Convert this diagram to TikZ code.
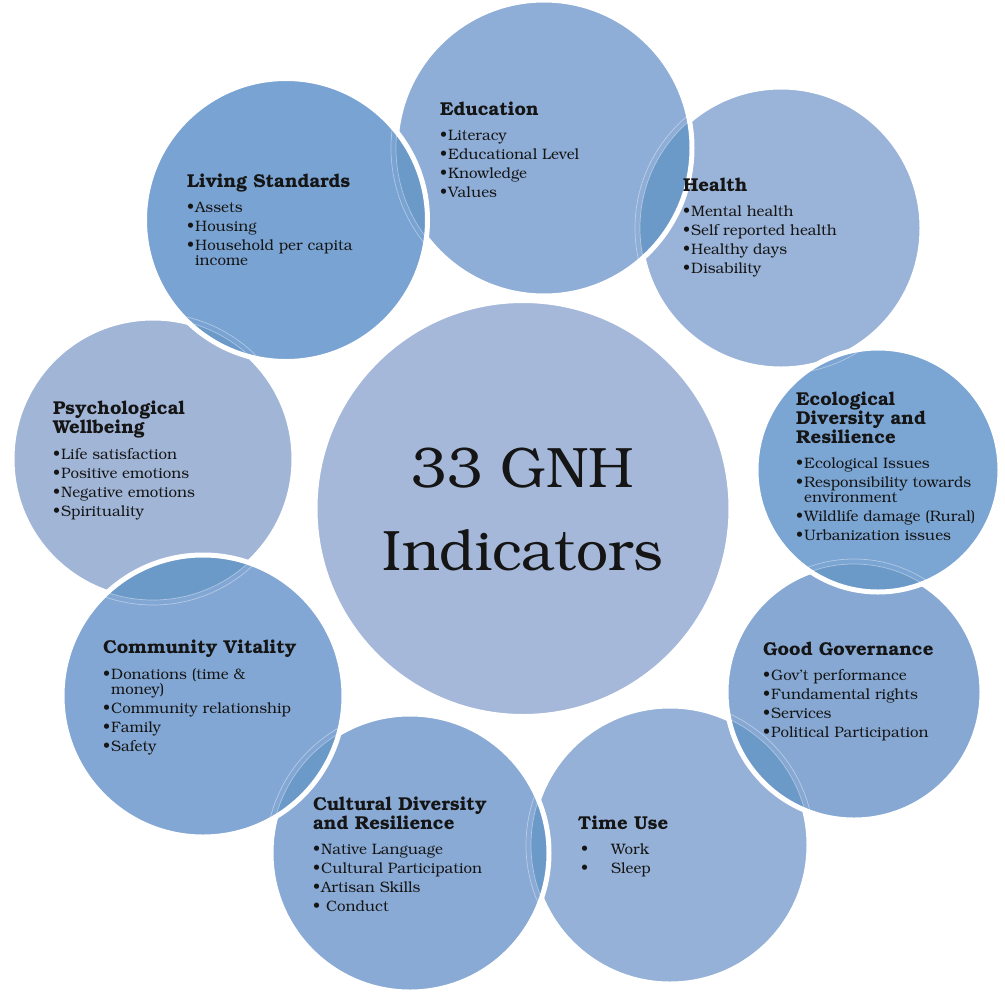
\documentclass[tikz,border=0pt]{standalone}
\usepackage[T1]{fontenc}
\usepackage{bookman}
\definecolor{cEdu}{HTML}{8FAED7}
\definecolor{cHea}{HTML}{9AB3D8}
\definecolor{cEco}{HTML}{7BA5D3}
\definecolor{cGov}{HTML}{86A8D3}
\definecolor{cTim}{HTML}{95B1D8}
\definecolor{cCul}{HTML}{89AAD5}
\definecolor{cCom}{HTML}{83A7D4}
\definecolor{cPsy}{HTML}{A1B5D7}
\definecolor{cLiv}{HTML}{79A3D2}
\definecolor{cCen}{HTML}{A5B8D9}
\definecolor{cLens}{HTML}{6C9AC8}
\definecolor{ink}{HTML}{151515}
\newcommand\ttl[1]{{\fontsize{18.6}{19}\selectfont\bfseries #1\par}\vspace{6pt}}
\newcommand\itm[1]{\par\hangindent=8pt\hangafter=1\noindent\makebox[8pt][l]{\textbullet}#1}
\newcommand\blk[1]{\parbox[t]{280pt}{\fontsize{15.1}{15}\selectfont\setlength\parskip{4pt}\setlength\parindent{0pt}\raggedright #1}}
\newcommand\bubble[3]{%
  \fill[#3] (#1) circle[radius=#2pt];}
\newcommand\rim[2]{%
  \draw[rimline] (#1) circle[radius=#2pt];}
\newcommand\lens[4]{%
  \begin{scope}
    \clip (#1) circle[radius=#2pt];
    \fill[cLens] (#3) circle[radius=#4pt];
    \draw[ghost] (#3) circle[radius=#4pt];
    \draw[ghost] (#3) circle[radius=#4pt+5pt];
  \end{scope}}
\begin{document}
\begin{tikzpicture}[x=1pt,y=-1pt,
  rimline/.style={draw=white,line width=5pt},
  ghost/.style={draw=white,opacity=0.4,line width=0.7pt},
  txt/.style={inner sep=0pt,anchor=base west,text=ink}]
\useasboundingbox (0,0) rectangle (1005,994);
\fill[white] (0,0) rectangle (1005,994);
% centres
\coordinate (pEdu) at (544,148);
\coordinate (pHea) at (781,228);
\coordinate (pEco) at (878,470);
\coordinate (pGov) at (854,692);
\coordinate (pTim) at (670,845);
\coordinate (pCul) at (410,853);
\coordinate (pCom) at (203,696);
\coordinate (pPsy) at (153,459);
\coordinate (pLiv) at (286,220);
\coordinate (pCen) at (523,508.5);
% central circle
\bubble{pCen}{208}{cCen}
\rim{pCen}{208}
% bottom layer
\bubble{pHea}{141}{cHea}\rim{pHea}{141}
\bubble{pTim}{139}{cTim}\rim{pTim}{139}
\bubble{pPsy}{141}{cPsy}\rim{pPsy}{141}
% Education over Health
\bubble{pEdu}{148}{cEdu}
\lens{pEdu}{148}{pHea}{141}
\rim{pEdu}{148}
% Cultural over Time Use
\bubble{pCul}{139}{cCul}
\lens{pCul}{139}{pTim}{139}
\rim{pCul}{139}
% Good Governance over Time Use
\bubble{pGov}{128}{cGov}
\lens{pGov}{128}{pTim}{139}
\rim{pGov}{128}
% Living Standards over Education and Psychological
\bubble{pLiv}{141.5}{cLiv}
\lens{pLiv}{141.5}{pEdu}{148}
\lens{pLiv}{141.5}{pPsy}{141}
\rim{pLiv}{141.5}
% Community over Cultural and Psychological
\bubble{pCom}{141}{cCom}
\lens{pCom}{141}{pCul}{139}
\lens{pCom}{141}{pPsy}{141}
\rim{pCom}{141}
% Ecological over Good Governance and Health
\bubble{pEco}{122}{cEco}
\lens{pEco}{122}{pGov}{128}
\lens{pEco}{122}{pHea}{141}
\rim{pEco}{122}
% texts
\node[txt,anchor=base] (tCen) at (523,487) {\parbox[t]{420pt}{\centering\fontsize{57}{83}\selectfont 33 GNH\\Indicators}};
\node[txt] (tEdu) at (440,115) {\blk{\ttl{Education}\itm{Literacy}\itm{Educational Level}\itm{Knowledge}\itm{Values}}};
\node[txt] (tLiv) at (187,187) {\blk{\ttl{Living Standards}\itm{Assets}\itm{Housing}\itm{Household per capita\newline income}}};
\node[txt] (tHea) at (683,191) {\blk{\ttl{Health}\itm{Mental health}\itm{Self reported health}\itm{Healthy days}\itm{Disability}}};
\node[txt] (tPsy) at (53,414) {\blk{\ttl{Psychological\\Wellbeing}\itm{Life satisfaction}\itm{Positive emotions}\itm{Negative emotions}\itm{Spirituality}}};
\node[txt] (tEco) at (796,405) {\blk{\ttl{Ecological\\Diversity and\\Resilience}\itm{Ecological Issues}\itm{Responsibility towards\newline environment}\itm{Wildlife damage (Rural)}\itm{Urbanization issues}}};
\node[txt] (tGov) at (763,655) {\blk{\ttl{Good Governance}\itm{Gov'{}t performance}\itm{Fundamental rights}\itm{Services}\itm{Political Participation}}};
\node[txt] (tTim) at (578,829) {\blk{\ttl{Time Use}\par\hspace*{3pt}\makebox[30pt][l]{\textbullet}Work\par\hspace*{3pt}\makebox[30pt][l]{\textbullet}Sleep}};
\node[txt] (tCul) at (313,810) {\blk{\ttl{Cultural Diversity\\and Resilience}\itm{Native Language}\itm{Cultural Participation}\itm{Artisan Skills}\itm{\ Conduct}}};
\node[txt] (tCom) at (103,653) {\blk{\ttl{Community Vitality}\itm{Donations (time \&\newline money)}\itm{Community relationship}\itm{Family}\itm{Safety}}};
\end{tikzpicture}
\end{document}
